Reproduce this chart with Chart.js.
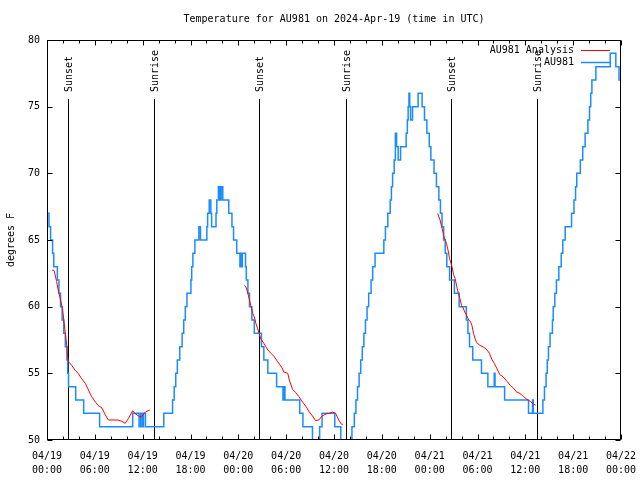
<!DOCTYPE html>
<html><head><meta charset="utf-8">
<script src="https://cdn.jsdelivr.net/npm/chart.js@4/dist/chart.umd.min.js"></script>
<style>html,body{margin:0;padding:0;background:#fff;}#c{display:block;}</style>
</head><body>
<canvas id="c" width="640" height="480"></canvas>
<script>
const chartTitle = 'Temperature for AU981 on 2024-Apr-19 (time in UTC)';
const yAxisTitle = 'degrees F';
const seriesNames = ['AU981 Analysis', 'AU981'];
const xTickLabels = [['04/19','00:00'],['04/19','06:00'],['04/19','12:00'],['04/19','18:00'],
  ['04/20','00:00'],['04/20','06:00'],['04/20','12:00'],['04/20','18:00'],
  ['04/21','00:00'],['04/21','06:00'],['04/21','12:00'],['04/21','18:00'],['04/22','00:00']];
const yTickValues = [50,55,60,65,70,75,80];
const sunLabels = ['Sunset','Sunrise','Sunset','Sunrise','Sunset','Sunrise'];
const sunHours = [2.67, 13.46, 26.63, 37.47, 50.71, 61.50];

// AU981 observations: hour since 04/19 00:00 UTC when reading changes, temperature F
const obsHours = [0,0.25,0.45,0.7,0.85,1.3,1.5,1.7,1.9,2.1,2.3,2.5,2.6,2.7,3.6,4.6,6.6,10.75,11.55,11.75,11.95,12.1,12.35,14.65,
 15.75,15.95,16.15,16.35,16.65,16.95,17.15,17.35,17.55,18.05,18.15,18.3,18.55,19.05,19.25,20.05,20.15,20.35,20.55,20.65,
 21.2,21.3,21.5,21.6,21.7,21.8,21.85,22.05,22.8,23.2,23.4,23.8,24.2,24.3,24.4,24.5,24.9,25.0,25.2,25.4,25.7,26.0,26.9,27.2,27.7,
 28.8,29.6,29.7,29.85,31.7,32.1,33.3,33.5,34.0,34.2,34.5,36.1,36.85,37.15,38.05,38.25,38.55,38.75,38.95,39.15,39.35,39.55,39.75,
 39.95,40.15,40.35,40.65,40.85,41.15,42.25,42.45,42.75,43.05,43.2,43.35,43.55,43.7,43.85,44.05,44.35,45.05,45.2,45.3,45.4,45.5,45.6,
 45.85,46.55,47.05,47.35,47.65,47.95,48.15,48.55,48.85,49.15,49.35,49.55,49.75,49.95,50.15,50.5,51.1,51.7,52.6,52.8,53.0,53.4,
 54.5,55.3,56.1,56.2,57.4,60.4,60.9,61.0,62.2,62.4,62.6,62.75,62.9,63.1,63.4,63.5,63.7,63.9,64.2,64.5,64.7,65.0,65.8,66.1,66.3,
 66.45,66.9,67.2,67.5,67.85,68.05,68.2,68.35,68.85,70.65,71.35,71.75,72];
const obsTemps = [67,66,65,64,63,62,61,60,59,58,57,56,55,54,53,52,51,52,51,52,51,52,51,52,
 53,54,55,56,57,58,59,60,61,62,63,64,65,66,65,66,67,68,67,66,
 67,68,69,68,69,68,69,68,67,66,65,64,63,64,63,64,63,62,61,60,59,58,57,56,55,
 54,53,54,53,52,51,50,49,50,51,52,51,50,49,50,51,52,53,54,55,56,57,58,
 59,60,61,62,63,64,65,66,67,68,69,70,71,73,72,71,72,73,74,75,76,75,74,
 75,76,75,74,73,72,71,70,69,68,67,66,65,64,63,62,61,60,59,58,57,56,
 55,54,55,54,53,52,53,52,53,54,55,56,57,58,59,60,61,62,63,64,65,66,67,68,69,
 70,71,72,73,74,75,76,77,78,79,78,77,77];

// AU981 Analysis (null breaks the line between nights)
const anaHours = [0.63,0.9,1.2,1.4,1.7,1.97,2.1,2.3,2.5,2.62,2.8,3.1,3.5,3.9,4.35,4.8,5.2,5.6,6.0,6.4,6.9,7.3,7.7,8.9,9.4,9.8,10.2,10.75,11.0,11.5,11.8,12.2,12.35,12.9,
 13.0,
 24.8,25.0,25.2,25.4,25.6,25.8,26.0,26.2,26.4,26.6,26.8,27.2,27.7,28.1,28.5,28.9,29.5,29.7,30.2,30.4,30.8,31.2,31.6,32.0,32.5,32.9,33.3,33.7,34.1,34.5,35.0,35.4,35.8,36.2,36.6,36.9,37.1,
 38.0,
 49.0,49.3,49.5,49.8,50.1,50.3,50.5,50.8,51.0,51.2,51.4,51.6,51.8,52.0,52.2,52.4,52.6,52.9,53.1,53.3,53.5,53.7,53.9,54.3,54.8,55.2,55.5,55.8,56.1,56.4,56.8,57.2,57.7,58.1,58.5,58.9,59.3,59.8,60.2,60.6,61.0,61.3];
const anaTemps = [62.75,62.7,61.9,61.25,60.5,59.75,59,58,57,56,55.8,55.6,55.25,55,54.6,54.25,53.75,53.25,52.9,52.6,52.4,51.9,51.5,51.5,51.4,51.25,51.6,52.2,52.0,51.8,51.7,52.0,52.1,52.25,
 null,
 61.6,61.4,61,60.5,60,59.5,59.25,58.75,58.4,58,57.6,57.25,56.75,56.5,56.25,55.9,55.4,55.1,55,54.5,53.8,53.55,53.25,52.9,52.5,52.1,51.8,51.45,51.5,51.8,51.95,52,52.1,52,51.5,51.2,51.15,
 null,
 67,66.5,66,65.25,64.75,64.25,63.6,63,62.4,62.1,61.5,61,60.6,60.1,59.9,59.6,59.4,59,58.9,58.6,58,57.6,57.3,57.1,56.95,56.75,56.5,56.05,55.75,55.4,54.9,54.75,54.4,54.1,53.9,53.6,53.5,53.25,53.05,52.9,52.7,52.6];

const FONT = '10px "DejaVu Sans Mono", "Liberation Mono", monospace';
const RED = '#ff0000', BLUE = '#1a8cff';

Chart.defaults.font.family = '"DejaVu Sans Mono", "Liberation Mono", monospace';
Chart.defaults.font.size = 10;
Chart.defaults.color = '#000';

const decor = {
  id: 'decor',
  beforeDatasetsDraw(chart) {
    const ctx = chart.ctx, x = chart.scales.x, a = chart.chartArea;
    ctx.save();
    ctx.strokeStyle = '#000'; ctx.lineWidth = 1;
    sunHours.forEach((h, i) => {
      const px = Math.round(x.getPixelForValue(h)) + 0.5;
      ctx.beginPath(); ctx.moveTo(px, 99); ctx.lineTo(px, a.bottom); ctx.stroke();
      ctx.save();
      ctx.translate(px + 1, 92); ctx.rotate(-Math.PI / 2);
      ctx.font = FONT; ctx.fillStyle = '#000'; ctx.textAlign = 'left'; ctx.textBaseline = 'middle';
      ctx.fillText(sunLabels[i], 0, 0);
      ctx.restore();
    });
    ctx.restore();
  },
  afterDraw(chart) {
    const ctx = chart.ctx, x = chart.scales.x, y = chart.scales.y, a = chart.chartArea;
    ctx.save();
    ctx.strokeStyle = '#000'; ctx.lineWidth = 1;
    const L = Math.round(a.left) + 0.5, R = Math.round(a.right) - 0.5, T = Math.round(a.top) + 0.5, B = Math.round(a.bottom) - 0.5;
    ctx.strokeRect(L, T, R - L, B - T);
    ctx.beginPath();
    for (let h = 0; h <= 72; h += 2) {
      const px = Math.round(x.getPixelForValue(h)) + 0.5;
      const len = (h % 6 === 0) ? 5 : 3;
      ctx.moveTo(px, B); ctx.lineTo(px, B - len);
      ctx.moveTo(px, T); ctx.lineTo(px, T + len);
    }
    yTickValues.forEach(v => {
      const py = Math.round(y.getPixelForValue(v)) + 0.5;
      ctx.moveTo(L, py); ctx.lineTo(L + 5, py);
      ctx.moveTo(R, py); ctx.lineTo(R - 5, py);
    });
    ctx.stroke();
    ctx.font = FONT; ctx.fillStyle = '#000';
    ctx.textAlign = 'center'; ctx.textBaseline = 'middle';
    ctx.fillText(chartTitle, (a.left + a.right) / 2, 19);
    ctx.save();
    ctx.translate(11, (a.top + a.bottom) / 2); ctx.rotate(-Math.PI / 2);
    ctx.fillText(yAxisTitle, 0, 0);
    ctx.restore();
    // legend
    const colors = [RED, BLUE];
    seriesNames.forEach((n, i) => {
      const ly = 50 + i * 12;
      ctx.textAlign = 'right';
      ctx.fillText(n, 574, ly);
      ctx.strokeStyle = colors[i]; ctx.lineWidth = i ? 1.5 : 1;
      ctx.beginPath(); ctx.moveTo(581, ly + 0.5); ctx.lineTo(610, ly + 0.5); ctx.stroke();
    });
    ctx.restore();
  }
};

new Chart(document.getElementById('c'), {
  type: 'line',
  data: {
    datasets: [
      { label: seriesNames[0], data: anaHours.map((h, i) => ({x: h, y: anaTemps[i]})),
        borderColor: RED, borderWidth: 1, pointRadius: 0, spanGaps: false, tension: 0 },
      { label: seriesNames[1], data: obsHours.map((h, i) => ({x: h, y: obsTemps[i]})),
        borderColor: BLUE, borderWidth: 1.5, pointRadius: 0, stepped: 'before', tension: 0 }
    ]
  },
  options: {
    responsive: false, animation: false, devicePixelRatio: 1,
    layout: { padding: { top: 40, right: 19, left: 0, bottom: 0 } },
    plugins: { legend: { display: false }, title: { display: false }, tooltip: { enabled: false } },
    scales: {
      x: { type: 'linear', min: 0, max: 72,
        grid: { display: false, drawTicks: false }, border: { display: false },
        ticks: { stepSize: 6, autoSkip: false, maxRotation: 0, padding: 9, color: '#000',
          font: { size: 10, lineHeight: 1.4 },
          callback: (v, i) => xTickLabels[i] },
        afterFit: s => { s.height = 40; s.paddingLeft = 0; s.paddingRight = 0; } },
      y: { min: 50, max: 80,
        grid: { display: false, drawTicks: false }, border: { display: false },
        ticks: { stepSize: 5, padding: 7, color: '#000', callback: v => String(v) },
        afterFit: s => { s.width = 47; s.paddingTop = 0; s.paddingBottom = 0; } }
    }
  },
  plugins: [decor]
});
</script>
</body></html>
